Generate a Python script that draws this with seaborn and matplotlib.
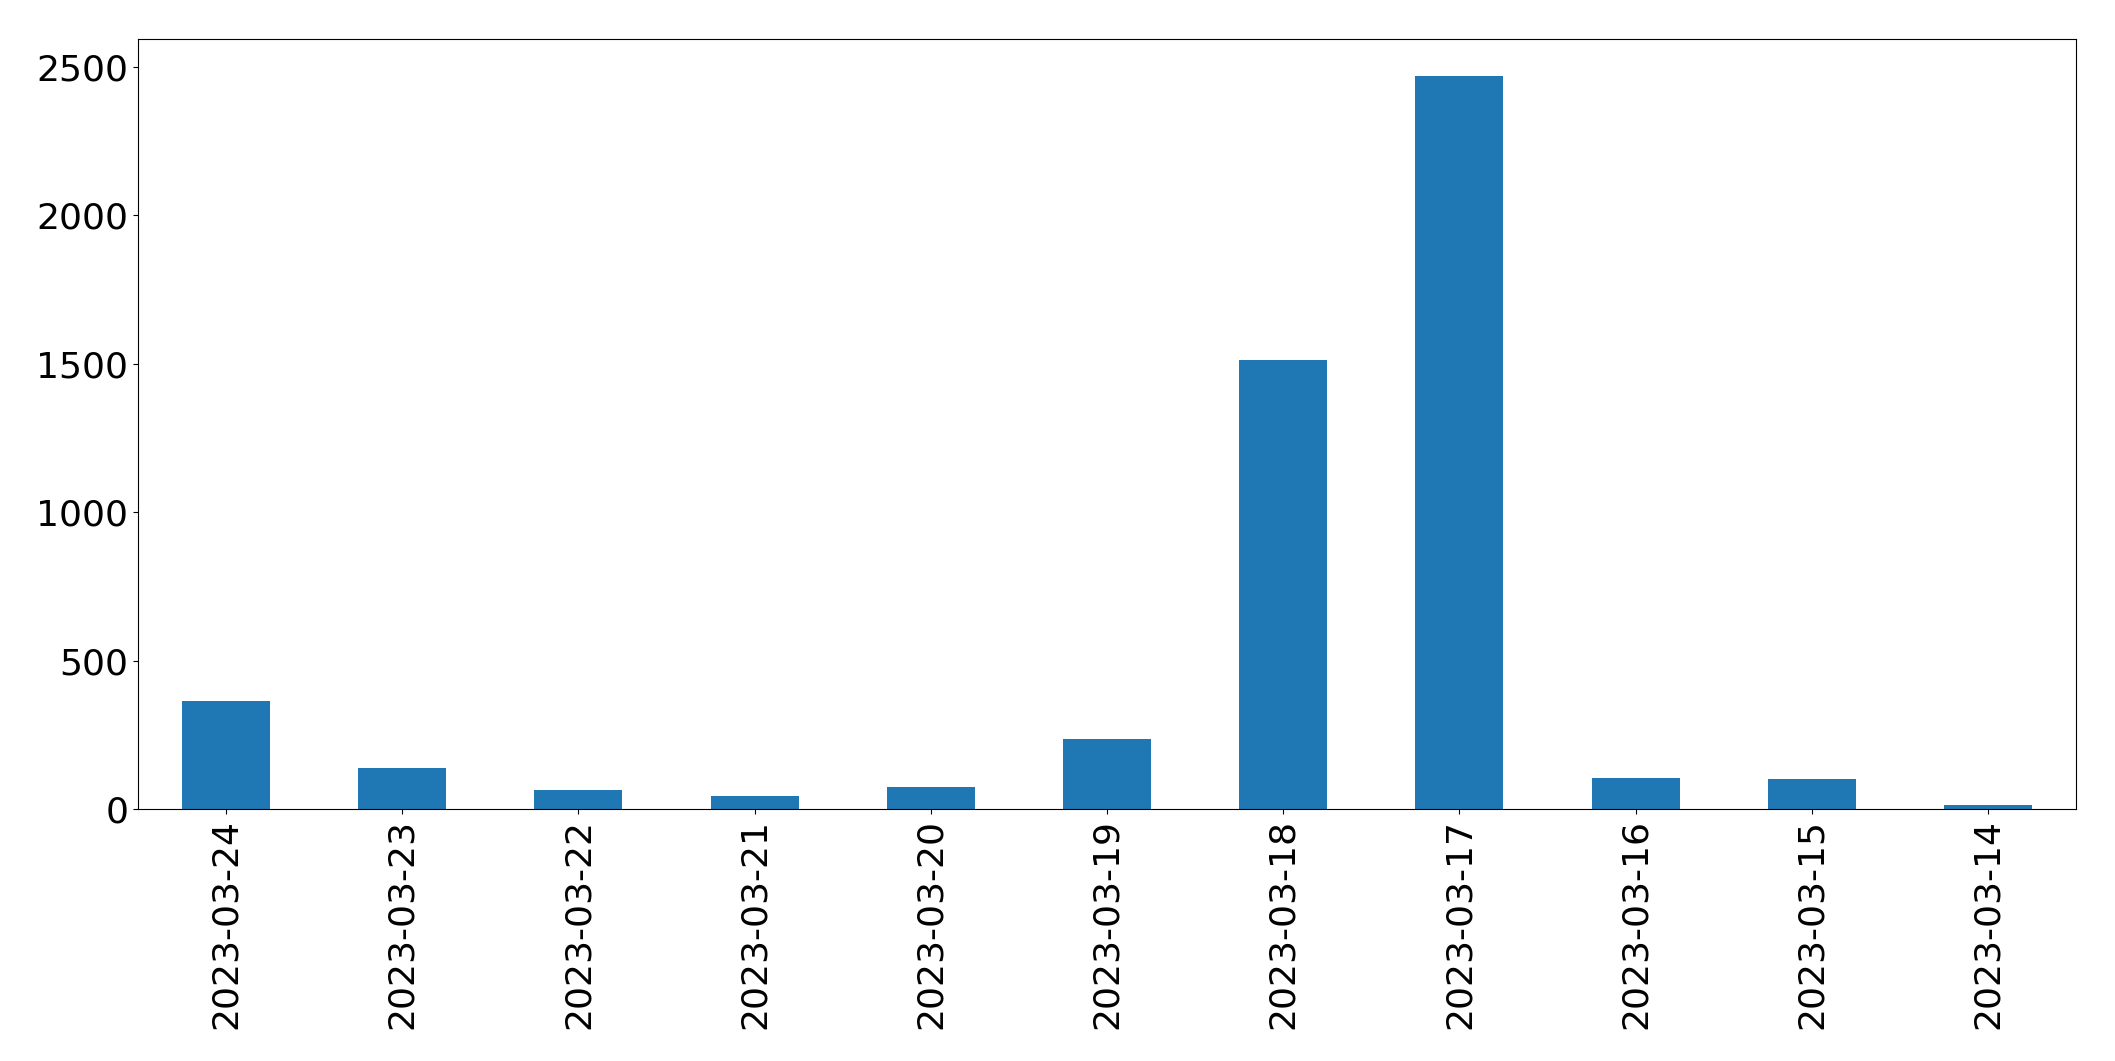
import pandas as pd
import matplotlib
matplotlib.use("Agg")
import matplotlib.pyplot as plt
import seaborn as sns

dates = ["2023-03-24", "2023-03-23", "2023-03-22", "2023-03-21", "2023-03-20",
         "2023-03-19", "2023-03-18", "2023-03-17", "2023-03-16", "2023-03-15",
         "2023-03-14"]
counts = [364, 139, 65, 45, 75, 237, 1512, 2470, 105, 102, 14]

df = pd.DataFrame({"date": dates, "count": counts})

fig = plt.figure(figsize=(21.15, 10.61), dpi=100)
ax = fig.add_axes([0.0652, 0.2375, 0.9164, 0.7257])

sns.barplot(data=df, x="date", y="count", order=dates, color="#1f77b4",
            saturation=1, width=0.5, ax=ax)

ax.set_xlim(-0.5, len(dates) - 0.5)
ax.set_ylim(0, max(counts) * 1.05)
ax.set_xlabel("")
ax.set_ylabel("")
ax.tick_params(axis="both", labelsize=26)
ax.tick_params(axis="x", labelrotation=90)

fig.savefig("out.png", dpi=100)
